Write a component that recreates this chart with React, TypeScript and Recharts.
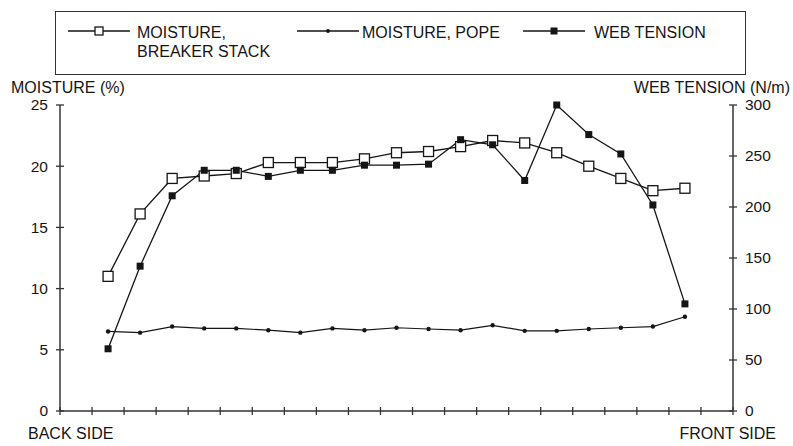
import { LineChart, Line, XAxis, YAxis, Legend, Label } from "recharts"

const POSITIONS = [1.5, 2.5, 3.5, 4.5, 5.5, 6.5, 7.5, 8.5, 9.5, 10.5, 11.5, 12.5, 13.5, 14.5, 15.5, 16.5, 17.5, 18.5, 19.5]
const MOISTURE_BREAKER = [11.0, 16.1, 19.0, 19.2, 19.4, 20.3, 20.3, 20.3, 20.6, 21.1, 21.2, 21.6, 22.1, 21.9, 21.1, 20.0, 19.0, 18.0, 18.2]
const MOISTURE_POPE = [6.5, 6.4, 6.9, 6.75, 6.75, 6.6, 6.4, 6.75, 6.6, 6.8, 6.7, 6.6, 7.0, 6.55, 6.55, 6.7, 6.8, 6.9, 7.7]
const WEB_TENSION = [61, 142, 211, 236, 236, 230, 236, 236, 241, 241, 242, 266, 261, 226, 300, 271, 252, 202, 105]

const X_TICKS = [0, 1, 2, 3, 4, 5, 6, 7, 8, 9, 10, 11, 12, 13, 14, 15, 16, 17, 18, 19, 20, 21]
const MOISTURE_TICKS = [0, 5, 10, 15, 20, 25]
const TENSION_TICKS = [0, 50, 100, 150, 200, 250, 300]

const FONT = "'Liberation Sans', Arial, Helvetica, sans-serif"
const INK = "#151515"
const AXIS = "#333"

// plot frame (chart is 793 x 446)
const W = 793
const H = 446
const AXIS_W = 60
const X_AXIS_H = 35
const PLOT_LEFT = AXIS_W
const PLOT_RIGHT = W - AXIS_W
const PLOT_BOTTOM = H - X_AXIS_H

const data = POSITIONS.map((pos, i) => ({
  pos,
  breaker: MOISTURE_BREAKER[i],
  pope: MOISTURE_POPE[i],
  tension: WEB_TENSION[i],
}))

function XTick({ payload }: any) {
  const x = payload.coordinate
  return <line x1={x} x2={x} y1={PLOT_BOTTOM - 4} y2={PLOT_BOTTOM + 4} stroke={AXIS} strokeWidth={1.3} />
}

function LeftTick({ payload }: any) {
  const y = payload.coordinate
  return (
    <g>
      <line x1={PLOT_LEFT - 4} x2={PLOT_LEFT + 4} y1={y} y2={y} stroke={AXIS} strokeWidth={1.3} />
      <text x={PLOT_LEFT - 12} y={y} dy="0.35em" textAnchor="end" fontSize={15.5} fill={INK} fontFamily={FONT}>
        {payload.value}
      </text>
    </g>
  )
}

function RightTick({ payload }: any) {
  const y = payload.coordinate
  return (
    <g>
      <line x1={PLOT_RIGHT - 4} x2={PLOT_RIGHT + 4} y1={y} y2={y} stroke={AXIS} strokeWidth={1.3} />
      <text x={PLOT_RIGHT + 12} y={y} dy="0.35em" textAnchor="start" fontSize={15.5} fill={INK} fontFamily={FONT}>
        {payload.value}
      </text>
    </g>
  )
}

function OpenSquare({ cx, cy, index }: any) {
  if (cx == null || cy == null) return <g key={index} />
  return <rect key={index} x={cx - 5} y={cy - 5} width={10} height={10} fill="#fff" stroke={INK} strokeWidth={1.3} />
}

function SmallDot({ cx, cy, index }: any) {
  if (cx == null || cy == null) return <g key={index} />
  return <circle key={index} cx={cx} cy={cy} r={2.2} fill={INK} />
}

function FilledSquare({ cx, cy, index }: any) {
  if (cx == null || cy == null) return <g key={index} />
  return <rect key={index} x={cx - 3.5} y={cy - 3.5} width={7} height={7} fill={INK} />
}

function LegendLine({ left, marker }: { left: number; marker: "open" | "dot" | "filled" }) {
  return (
    <svg style={{ position: "absolute", left, top: 12 }} width={62} height={14}>
      <line x1={0} x2={62} y1={7} y2={7} stroke={INK} strokeWidth={1.3} />
      {marker === "open" && <rect x={27} y={3} width={8} height={8} fill="#fff" stroke={INK} strokeWidth={1.3} />}
      {marker === "dot" && <circle cx={31} cy={7} r={2} fill={INK} />}
      {marker === "filled" && <rect x={27.5} y={3.5} width={7} height={7} fill={INK} />}
    </svg>
  )
}

function LegendBox() {
  const txt = { position: "absolute" as const, fontSize: 16, color: INK, fontFamily: FONT, lineHeight: "19px", whiteSpace: "nowrap" as const }
  return (
    <div style={{ position: "relative", width: 689, height: 62, border: `1.5px solid ${AXIS}` }}>
      <LegendLine left={12} marker="open" />
      <div style={{ ...txt, left: 81, top: 11 }}>
        MOISTURE,
        <br />
        BREAKER STACK
      </div>
      <LegendLine left={241} marker="dot" />
      <div style={{ ...txt, left: 306, top: 11 }}>MOISTURE, POPE</div>
      <LegendLine left={467} marker="filled" />
      <div style={{ ...txt, left: 538, top: 11 }}>WEB TENSION</div>
    </div>
  )
}

export default function App() {
  return (
    <div style={{ width: W, height: H, background: "#fff", fontFamily: FONT }}>
      <style>{"body{margin:0}"}</style>
      <LineChart width={W} height={H} data={data} margin={{ top: 105, right: 0, bottom: 0, left: 0 }}>
        <XAxis
          dataKey="pos"
          type="number"
          domain={[0, 21]}
          ticks={X_TICKS}
          interval={0}
          height={X_AXIS_H}
          tickSize={0}
          tickMargin={0}
          tickLine={false}
          tick={<XTick />}
          axisLine={{ stroke: AXIS, strokeWidth: 1.5 }}
        >
          <Label
            content={() => (
              <g>
                <text x={28} y={433} dy="0.35em" fontSize={16} fill={INK} fontFamily={FONT}>BACK SIDE</text>
                <text x={776} y={433} dy="0.35em" textAnchor="end" fontSize={16} fill={INK} fontFamily={FONT}>FRONT SIDE</text>
              </g>
            )}
          />
        </XAxis>
        <YAxis
          yAxisId="m"
          orientation="left"
          width={AXIS_W}
          domain={[0, 25]}
          ticks={MOISTURE_TICKS}
          interval={0}
          tickSize={0}
          tickMargin={0}
          tickLine={false}
          tick={<LeftTick />}
          axisLine={{ stroke: AXIS, strokeWidth: 1.5 }}
        >
          <Label
            content={() => (
              <text x={11} y={87} dy="0.35em" fontSize={16} fill={INK} fontFamily={FONT}>MOISTURE (%)</text>
            )}
          />
        </YAxis>
        <YAxis
          yAxisId="t"
          orientation="right"
          width={AXIS_W}
          domain={[0, 300]}
          ticks={TENSION_TICKS}
          interval={0}
          tickSize={0}
          tickMargin={0}
          tickLine={false}
          tick={<RightTick />}
          axisLine={{ stroke: AXIS, strokeWidth: 1.5 }}
        >
          <Label
            content={() => (
              <text x={790} y={87} dy="0.35em" textAnchor="end" fontSize={16} fill={INK} fontFamily={FONT}>WEB TENSION (N/m)</text>
            )}
          />
        </YAxis>
        <Legend
          layout="horizontal"
          verticalAlign="middle"
          align="center"
          wrapperStyle={{ left: 55, top: 11, width: 692, height: 65 }}
          content={() => <LegendBox />}
        />
        <Line yAxisId="m" dataKey="breaker" name="MOISTURE, BREAKER STACK" stroke={INK} strokeWidth={1.3} dot={<OpenSquare />} isAnimationActive={false} />
        <Line yAxisId="m" dataKey="pope" name="MOISTURE, POPE" stroke={INK} strokeWidth={1.2} dot={<SmallDot />} isAnimationActive={false} />
        <Line yAxisId="t" dataKey="tension" name="WEB TENSION" stroke={INK} strokeWidth={1.3} dot={<FilledSquare />} isAnimationActive={false} />
      </LineChart>
    </div>
  )
}
